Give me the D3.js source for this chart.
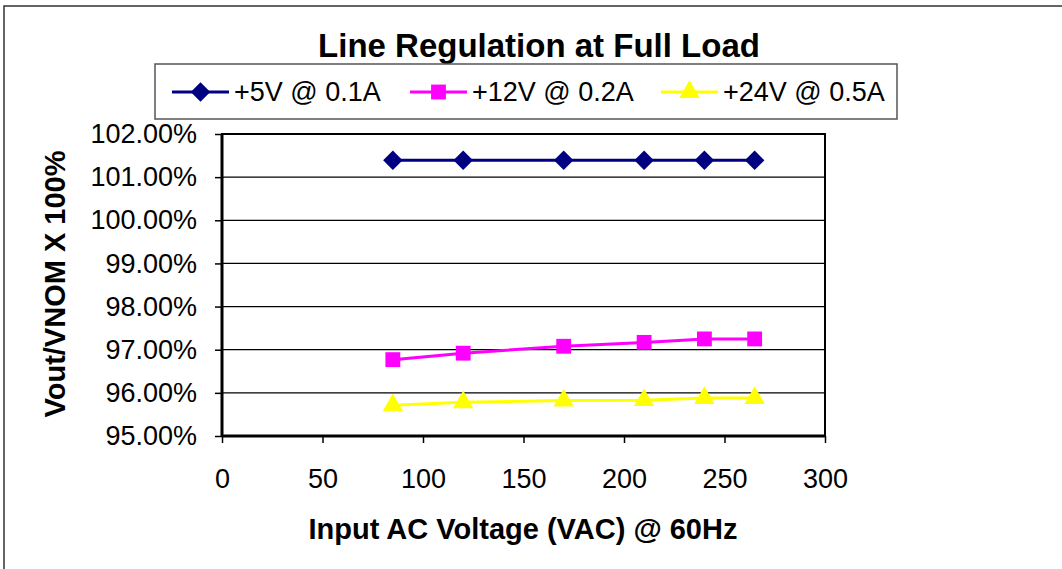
<!DOCTYPE html>
<html lang="en">
<head>
  <meta charset="UTF-8">
  <title>Line Regulation at Full Load</title>
  <script src="https://d3js.org/d3.v7.min.js"></script>
  <style>
    body { margin: 0; background: #fff; }
    svg { display: block; font-family: "Liberation Sans", Arial, sans-serif; }
    .tick text { font-size: 27px; fill: #000; font-family: "Liberation Sans", Arial, sans-serif; }
    .tick line { stroke: #000; stroke-width: 1.5; }
    .domain { display: none; }
  </style>
</head>
<body>
  <svg width="1062" height="569"></svg>
  <script>
    // data
    const inputVac = [85, 120, 170, 210, 240, 265];
    const out5v = [101.39, 101.39, 101.39, 101.39, 101.39, 101.39];
    const out12v = [96.77, 96.92, 97.08, 97.17, 97.25, 97.25];
    const out24v = [95.71, 95.78, 95.82, 95.83, 95.88, 95.88];
    const seriesNames = ["+5V @ 0.1A", "+12V @ 0.2A", "+24V @ 0.5A"];
    const yTicks = [95, 96, 97, 98, 99, 100, 101, 102];
    const xTicks = [0, 50, 100, 150, 200, 250, 300];

    const svg = d3.select("svg");
    const x = d3.scaleLinear().domain([0, 300]).range([222, 825]);
    const y = d3.scaleLinear().domain([95, 102]).range([436, 134]);

    // diamond a bit squatter than d3's default one
    const diamond = {
      draw(ctx, size) {
        const r = Math.sqrt(size / 2);
        ctx.moveTo(0, -r); ctx.lineTo(r, 0); ctx.lineTo(0, r); ctx.lineTo(-r, 0); ctx.closePath();
      }
    };

    // outer chart frame
    svg.append("rect")
      .attr("x", 4).attr("y", 6)
      .attr("width", 1100).attr("height", 600)
      .attr("fill", "#fff")
      .attr("stroke", "#333")
      .attr("stroke-width", 1.5);

    // title
    svg.append("text")
      .attr("x", 539).attr("y", 57)
      .attr("text-anchor", "middle")
      .attr("font-size", "33px")
      .attr("font-weight", "bold")
      .text("Line Regulation at Full Load");

    // gridlines
    svg.append("g")
      .selectAll("line")
      .data(yTicks.slice(1, -1))
      .join("line")
      .attr("x1", x(0)).attr("x2", x(300))
      .attr("y1", d => y(d)).attr("y2", d => y(d))
      .attr("stroke", "#000")
      .attr("stroke-width", 1.2);

    // plot area border
    svg.append("rect")
      .attr("x", x(0)).attr("y", y(102))
      .attr("width", x(300) - x(0)).attr("height", y(95) - y(102))
      .attr("fill", "none")
      .attr("stroke", "#000")
      .attr("stroke-width", 2);

    // axes
    svg.append("g")
      .attr("transform", `translate(${x(0)},0)`)
      .call(d3.axisLeft(y).tickValues(yTicks).tickSize(7).tickPadding(18)
        .tickFormat(d => d.toFixed(2) + "%"));

    svg.append("g")
      .attr("transform", `translate(0,${y(95)})`)
      .call(d3.axisBottom(x).tickValues(xTicks).tickSize(7).tickPadding(26));

    svg.append("line")
      .attr("x1", x(0)).attr("x2", x(0))
      .attr("y1", y(102)).attr("y2", y(95))
      .attr("stroke", "#000").attr("stroke-width", 3);
    svg.append("line")
      .attr("x1", x(0)).attr("x2", x(300))
      .attr("y1", y(95)).attr("y2", y(95))
      .attr("stroke", "#000").attr("stroke-width", 3);

    // axis titles
    svg.append("text")
      .attr("transform", "translate(65,284) rotate(-90)")
      .attr("text-anchor", "middle")
      .attr("font-size", "29px")
      .attr("font-weight", "bold")
      .text("Vout/VNOM X 100%");

    svg.append("text")
      .attr("x", 523).attr("y", 539)
      .attr("text-anchor", "middle")
      .attr("font-size", "29px")
      .attr("font-weight", "bold")
      .text("Input AC Voltage (VAC) @ 60Hz");

    const series = [
      { name: seriesNames[0], values: out5v, color: "#000080", symbol: diamond, size: 190 },
      { name: seriesNames[1], values: out12v, color: "#FF00FF", symbol: d3.symbolSquare, size: 220 },
      { name: seriesNames[2], values: out24v, color: "#FFFF00", symbol: d3.symbolTriangle, size: 180 }
    ];

    const line = d3.line().x(d => x(d[0])).y(d => y(d[1]));

    series.forEach(s => {
      const pts = inputVac.map((v, i) => [v, s.values[i]]);
      svg.append("path")
        .attr("d", line(pts))
        .attr("fill", "none")
        .attr("stroke", s.color)
        .attr("stroke-width", 3);
      svg.append("g")
        .selectAll("path")
        .data(pts)
        .join("path")
        .attr("transform", d => `translate(${x(d[0])},${y(d[1])})`)
        .attr("d", d3.symbol().type(s.symbol).size(s.size))
        .attr("fill", s.color);
    });

    // legend
    svg.append("rect")
      .attr("x", 155).attr("y", 64)
      .attr("width", 742).attr("height", 55)
      .attr("fill", "#fff")
      .attr("stroke", "#555")
      .attr("stroke-width", 1.5);

    const legendX = [172, 410, 661];
    series.forEach((s, i) => {
      const lx = legendX[i];
      svg.append("line")
        .attr("x1", lx).attr("x2", lx + 57)
        .attr("y1", 92).attr("y2", 92)
        .attr("stroke", s.color)
        .attr("stroke-width", 3);
      svg.append("path")
        .attr("transform", `translate(${lx + 28.5},92)`)
        .attr("d", d3.symbol().type(s.symbol).size(s.size)())
        .attr("fill", s.color);
      svg.append("text")
        .attr("x", lx + 62).attr("y", 101)
        .attr("font-size", "27px")
        .text(s.name);
    });
  </script>
</body>
</html>
